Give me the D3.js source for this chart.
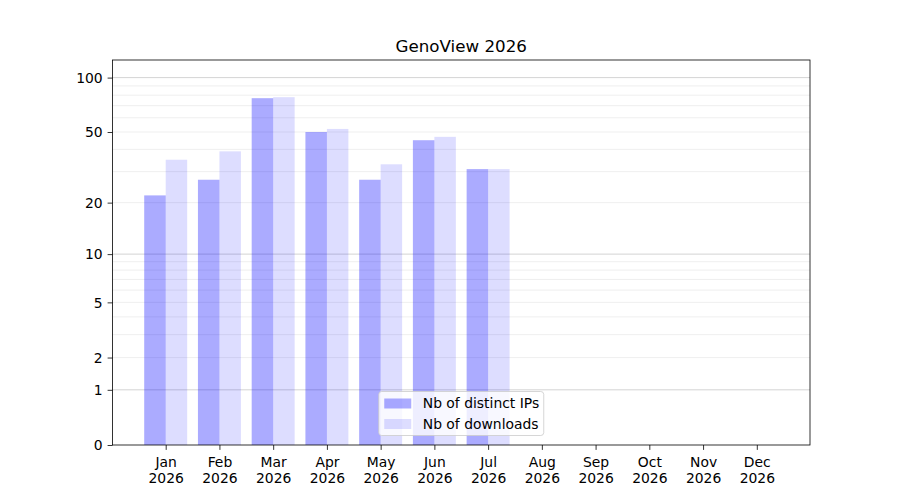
<!DOCTYPE html>
<html>
<head>
<meta charset="utf-8">
<script src="https://cdn.jsdelivr.net/npm/d3@7"></script>
<style>
  body { margin: 0; background: #fff; }
  text { font-family: "DejaVu Sans", sans-serif; }
</style>
</head>
<body>
<div id="chart"></div>
<script>
// chart data
const months = ["Jan", "Feb", "Mar", "Apr", "May", "Jun", "Jul", "Aug", "Sep", "Oct", "Nov", "Dec"];
const year = "2026";
const distinctIPs = [22, 27, 77, 50, 27, 45, 31, 0, 0, 0, 0, 0];
const downloads = [35, 39, 78, 52, 33, 47, 31, 0, 0, 0, 0, 0];
const majorTicks = [0, 1, 2, 5, 10, 20, 50, 100];
const decadeGrid = [1, 10, 100];
const minorGrid = [2, 3, 4, 5, 6, 7, 8, 9, 20, 30, 40, 50, 60, 70, 80, 90];
const seriesNames = ["Nb of distinct IPs", "Nb of downloads"];

(() => {
  const width = 900, height = 500;
  const margin = { top: 60, right: 90, bottom: 55, left: 112.5 };
  const innerW = width - margin.left - margin.right;
  const innerH = height - margin.top - margin.bottom;

  const svg = d3.select("#chart").append("svg")
    .attr("width", width)
    .attr("height", height);

  const g = svg.append("g").attr("transform", `translate(${margin.left},${margin.top})`);

  // x as continuous index, bars of width 0.4 side by side, 5% margins like matplotlib
  const barW = 0.4;
  const lo = -barW, hi = months.length - 1 + barW;
  const pad = (hi - lo) * 0.05;
  const x = d3.scaleLinear().domain([lo - pad, hi + pad]).range([0, innerW]);

  // log(1+x) scale
  const y = d3.scaleSymlog().constant(1).domain([0, 125]).range([innerH, 0]);

  // grid: light lines everywhere, darker ones on decades
  g.append("g").selectAll("line")
    .data(minorGrid)
    .enter().append("line")
    .attr("x1", 0).attr("x2", innerW)
    .attr("y1", d => y(d)).attr("y2", d => y(d))
    .attr("stroke", "#ebebeb").attr("stroke-width", 0.8);
  g.append("g").selectAll("line")
    .data(decadeGrid)
    .enter().append("line")
    .attr("x1", 0).attr("x2", innerW)
    .attr("y1", d => y(d)).attr("y2", d => y(d))
    .attr("stroke", "#c8c8c8").attr("stroke-width", 0.8);

  // bars
  const series = [
    { values: distinctIPs, offset: -barW / 2, opacity: 0.33 },
    { values: downloads, offset: barW / 2, opacity: 0.135 }
  ];
  series.forEach(s => {
    g.append("g").selectAll("rect")
      .data(s.values)
      .enter().append("rect")
      .attr("x", (d, i) => x(i + s.offset - barW / 2))
      .attr("width", x(barW) - x(0))
      .attr("y", d => y(d))
      .attr("height", d => innerH - y(d))
      .attr("fill", "blue")
      .attr("fill-opacity", s.opacity);
  });

  // axes
  const xAxis = d3.axisBottom(x)
    .tickValues(d3.range(months.length))
    .tickSize(4.9)
    .tickPadding(4.9)
    .tickFormat("");
  const xg = g.append("g")
    .attr("transform", `translate(0,${innerH})`)
    .call(xAxis);
  xg.selectAll(".tick").append("text")
    .attr("fill", "#000")
    .attr("text-anchor", "middle")
    .attr("font-size", "13.9px")
    .selectAll("tspan")
    .data(i => [months[i], year])
    .enter().append("tspan")
    .attr("x", 0)
    .attr("y", (d, j) => 22 + j * 16)
    .text(d => d);

  const yAxis = d3.axisLeft(y)
    .tickValues(majorTicks)
    .tickSize(4.9)
    .tickPadding(4.9)
    .tickFormat(d3.format("d"));
  const yg = g.append("g").call(yAxis);
  yg.selectAll("text").attr("font-size", "13.9px").attr("fill", "#000").attr("dy", "0.35em");

  [xg, yg].forEach(a => {
    a.select(".domain").remove();
    a.selectAll("line").attr("stroke", "#000").attr("stroke-width", 0.8);
  });

  // frame
  g.append("rect")
    .attr("width", innerW).attr("height", innerH)
    .attr("fill", "none").attr("stroke", "#000").attr("stroke-width", 0.8);

  // title
  svg.append("text")
    .attr("x", margin.left + innerW / 2)
    .attr("y", 52)
    .attr("text-anchor", "middle")
    .attr("font-size", "16.7px")
    .text("GenoView 2026");

  // legend, lower center
  const legW = 165, legH = 44;
  const legend = g.append("g")
    .attr("transform", `translate(${innerW / 2 - legW / 2},${innerH - 9.5 - legH})`);
  legend.append("rect")
    .attr("width", legW).attr("height", legH)
    .attr("rx", 3)
    .attr("fill", "#fff").attr("fill-opacity", 0.8)
    .attr("stroke", "#cccccc").attr("stroke-width", 0.8);
  seriesNames.forEach((name, i) => {
    legend.append("rect")
      .attr("x", 5.5).attr("y", 7 + i * 20.5)
      .attr("width", 27).attr("height", 10)
      .attr("fill", "blue").attr("fill-opacity", series[i].opacity);
    legend.append("text")
      .attr("x", 44).attr("y", 12 + i * 20.5)
      .attr("dy", "0.35em")
      .attr("font-size", "13.9px")
      .text(name);
  });
})();
</script>
</body>
</html>
